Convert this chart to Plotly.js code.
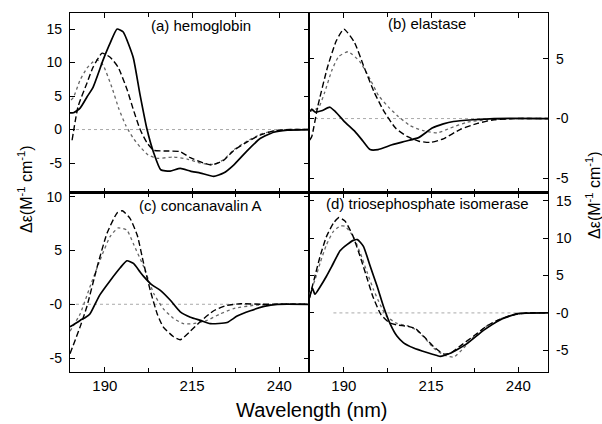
<!DOCTYPE html>
<html>
<head>
<meta charset="utf-8">
<script src="https://cdn.plot.ly/plotly-3.0.1.min.js"></script>
<style>html,body{margin:0;padding:0;background:#fff;}#chart{width:602px;height:424px;}</style>
</head>
<body>
<div id="chart"></div>
<script>
// ---- Data (wavelength nm, delta epsilon) ----
const panelLabels = ['(a) hemoglobin', '(b) elastase', '(c) concanavalin A', '(d) triosephosphate isomerase'];
const xTickVals = [190, 215, 240];

// (a) hemoglobin
const aSolidX = [180, 181, 182.9, 184.9, 186.6, 189.5, 191.5, 193.5, 195.2, 198.1, 200, 202, 204, 206, 208.7, 211.6, 214.5, 217.4, 221.2, 224, 226.9, 230.9, 234.6, 238.4, 242.3, 248.5];
const aSolidY = [2.5, 2.5, 3.2, 4.9, 6.3, 10.4, 12.9, 15.0, 14.6, 10.8, 5.4, 0.2, -3.5, -6.0, -6.2, -5.8, -6.2, -6.5, -7.0, -6.5, -5.3, -3.1, -1.3, -0.4, -0.1, 0];
const aDashX = [180.6, 182.3, 184.9, 186.6, 189.2, 191.5, 193.8, 196.4, 198.2, 200.1, 202.1, 204, 207.9, 211.6, 214.5, 218.3, 220.5, 224, 227, 230.9, 234.6, 238.5, 243, 248.5];
const aDashY = [-1.6, 3.4, 7.0, 9.3, 11.4, 10.8, 9.3, 5.9, 2.9, 0, -2, -3.1, -3.2, -3.3, -4.2, -5.0, -5.3, -4.6, -3.1, -1.8, -0.8, -0.2, 0, 0];
const aDotX = [180.3, 181, 182.9, 184.9, 186.6, 187.8, 189.5, 192, 194, 196, 198, 200.1, 202.4, 205, 209.7, 213.6, 217.4, 221.2, 224, 227, 230.9, 234.6, 238.5, 243, 248.5];
const aDotY = [4.4, 4.8, 7.4, 9.2, 10.1, 10.4, 9.6, 6.3, 3.1, 0.6, -1.2, -2.6, -3.8, -4.3, -4.1, -4.4, -5.0, -5.2, -4.5, -3.0, -1.7, -0.7, -0.2, 0, 0];

// (b) elastase
const bSolidX = [180.3, 180.8, 181.7, 183.6, 186, 187.5, 190.3, 193.2, 195.5, 197.5, 199.8, 203.8, 207.6, 211.4, 215.3, 218.5, 221.4, 227, 233, 248.5];
const bSolidY = [0.6, 0.8, 0.55, 0.65, 0.95, 0.6, -0.3, -1.1, -1.9, -2.6, -2.6, -2.2, -1.9, -1.6, -0.8, -0.45, -0.25, -0.1, 0, 0];
const bDashX = [180.2, 180.8, 182.5, 185.3, 187.8, 190, 193, 195.8, 198.7, 201.5, 204.8, 208.1, 211.5, 214.8, 218.5, 223.4, 228.3, 233, 240, 248.5];
const bDashY = [-1.8, -1.5, 1.0, 4.3, 6.5, 7.5, 6.4, 4.3, 2.2, 0.6, -0.8, -1.5, -1.9, -2.0, -1.7, -0.9, -0.4, -0.1, 0, 0];
const bDotX = [180.2, 182.7, 184.5, 186.5, 188.5, 191.2, 194.5, 197.5, 200, 203, 205.5, 209, 212.5, 216.8, 220.5, 225.4, 231.1, 240, 248.5];
const bDotY = [0.6, 0.9, 2.2, 4.0, 5.2, 5.6, 4.8, 3.3, 1.9, 0.9, 0.2, -0.6, -1.0, -1.2, -0.8, -0.3, -0.1, 0, 0];

// (c) concanavalin A
const cSolidX = [180, 181, 182.9, 184.5, 185.7, 187, 188.6, 191.5, 194.4, 196.3, 198.2, 200.1, 201.1, 203.5, 205.9, 208.7, 211.6, 214.5, 217.4, 220.2, 225, 227.9, 231.7, 235.6, 239.4, 248.5];
const cSolidY = [-2.1, -1.9, -1.5, -1.2, -0.9, -0.1, 0.9, 2.2, 3.4, 4.05, 3.8, 3.0, 2.6, 1.8, 1.3, 0.4, -0.7, -1.2, -1.5, -1.8, -1.7, -1.1, -0.6, -0.2, 0, 0];
const cDashX = [180, 182.9, 184.8, 187.8, 190.6, 193.5, 195, 197.2, 199.3, 201.1, 203, 205, 206.7, 209.6, 211.6, 214.5, 217.4, 221.2, 225, 228.9, 235, 248.5];
const cDashY = [-4.6, -2.1, -0.25, 3.5, 6.6, 8.5, 8.7, 8.0, 6.4, 3.8, 1.3, -0.9, -2.1, -3.0, -3.3, -2.5, -1.6, -0.6, -0.1, 0.05, 0, 0];
const cDotX = [180, 182.9, 185.7, 188.6, 191.5, 193.8, 196.3, 198.2, 201.1, 204, 206.7, 209.6, 212.5, 215.4, 219.3, 223, 226.9, 232.7, 240, 248.5];
const cDotY = [-2.5, -0.9, 1.6, 4.1, 6.3, 7.1, 6.9, 5.6, 3.5, 1.0, -0.4, -1.3, -1.8, -1.8, -1.5, -0.9, -0.4, -0.1, 0, 0];

// (d) triosephosphate isomerase
const dSolidX = [180.1, 181, 181.7, 183.2, 185, 186.5, 188.9, 190.8, 192.7, 193.9, 195.6, 197.5, 199.5, 201.4, 203.3, 205.2, 207.1, 210, 213.8, 216.7, 217.6, 220.5, 225.3, 230.1, 234.9, 239.7, 248.5];
const dSolidY = [2.0, 3.3, 2.5, 3.5, 4.9, 6.2, 8.3, 9.1, 9.7, 9.8, 8.9, 6.3, 3.6, 0.8, -1.5, -3.1, -4.0, -4.7, -5.3, -5.7, -5.8, -5.4, -4.1, -2.3, -0.9, -0.1, 0];
const dDashX = [180.1, 181.7, 183.2, 185, 187, 188.6, 190.3, 192.5, 194.9, 196.8, 198.3, 200.6, 203, 205.2, 208.3, 210.5, 213, 215.7, 218.6, 220.5, 223.4, 227.2, 231.1, 234.9, 238.7, 242.6, 248.5];
const dDashY = [2.0, 4.9, 7.6, 10.2, 12.0, 12.75, 12.3, 10.4, 7.2, 4.4, 2.2, -0.2, -1.3, -1.6, -1.8, -2.1, -3.2, -4.5, -5.5, -5.4, -4.4, -3.1, -1.7, -0.8, -0.25, 0, 0];
const dDotX = [180.1, 181.7, 183.2, 185, 187, 188.9, 190.3, 192.7, 194.7, 196.6, 198.5, 200.4, 202.3, 205.2, 208.1, 210.5, 212.9, 215.7, 218.6, 221.5, 224.3, 227.2, 231.1, 234.9, 238.7, 242.6, 248.5];
const dDotY = [2.4, 4.4, 6.7, 9.1, 10.9, 11.6, 11.6, 10.2, 8.0, 5.5, 3.1, 1.1, -0.5, -1.4, -1.7, -2.2, -3.2, -4.7, -5.6, -5.9, -4.7, -3.2, -1.7, -0.8, -0.25, 0, 0];

// y tick labels per panel
const aTickVals = [-5, 0, 5, 10, 15];  const aTickText = ['-5', '0', '5', '10', '15'];
const bTickVals = [-5, 0, 5];          const bTickText = ['-5', '-0', '5'];
const cTickVals = [-5, 0, 5, 10];      const cTickText = ['-5', '-0', '5', '10'];
const dTickVals = [-5, 0, 5, 10, 15];  const dTickText = ['-5', '-0', '5', '10', '15'];
const zeroStart = [180, 180, 180, 187];

// ---- Styles ----
const solidStyle = {color: '#000', width: 1.7, shape: 'spline', smoothing: 0.5};
const dashStyle = {color: '#000', width: 1.4, dash: '6px,3px', shape: 'spline', smoothing: 0.5};
const dotStyle = {color: '#666', width: 1.3, dash: 'dot', shape: 'spline', smoothing: 0.5};

const panels = [
  {sx: aSolidX, sy: aSolidY, dx: aDashX, dy: aDashY, ox: aDotX, oy: aDotY, ax: 'x', ay: 'y'},
  {sx: bSolidX, sy: bSolidY, dx: bDashX, dy: bDashY, ox: bDotX, oy: bDotY, ax: 'x2', ay: 'y2'},
  {sx: cSolidX, sy: cSolidY, dx: cDashX, dy: cDashY, ox: cDotX, oy: cDotY, ax: 'x3', ay: 'y3'},
  {sx: dSolidX, sy: dSolidY, dx: dDashX, dy: dDashY, ox: dDotX, oy: dDotY, ax: 'x4', ay: 'y4'}
];

const traces = [];
panels.forEach(p => {
  traces.push({x: p.ox, y: p.oy, xaxis: p.ax, yaxis: p.ay, mode: 'lines', line: dotStyle, hoverinfo: 'skip'});
  traces.push({x: p.dx, y: p.dy, xaxis: p.ax, yaxis: p.ay, mode: 'lines', line: dashStyle, hoverinfo: 'skip'});
  traces.push({x: p.sx, y: p.sy, xaxis: p.ax, yaxis: p.ay, mode: 'lines', line: solidStyle, hoverinfo: 'skip'});
});

const fontFam = 'Liberation Sans, Arial, sans-serif';
const xRange = [180, 248.5];

function xAxis(domain, anchor, showLabels) {
  return {
    domain: domain, anchor: anchor, range: xRange,
    tickmode: 'array', tickvals: xTickVals, ticktext: xTickVals.map(String),
    showticklabels: showLabels, ticks: 'inside', ticklen: 5, tickwidth: 1, tickcolor: '#000',
    minor: {tickmode: 'array', tickvals: [202.5, 227.5], ticks: 'inside', ticklen: 4, tickcolor: '#000'},
    showline: true, linecolor: '#000', linewidth: 1.2, mirror: 'ticks',
    showgrid: false, zeroline: false,
    tickfont: {family: fontFam, size: 15, color: '#000'}
  };
}
function yAxis(domain, anchor, range, vals, text, side) {
  return {
    domain: domain, anchor: anchor, range: range, side: side,
    tickmode: 'array', tickvals: vals, ticktext: text,
    ticks: 'inside', ticklen: 5, tickwidth: 1, tickcolor: '#000',
    showline: true, linecolor: '#000', linewidth: 1.2, mirror: 'ticks',
    showgrid: false, zeroline: false, ticklabelstandoff: 4,
    tickfont: {family: fontFam, size: 14, color: '#000'}
  };
}

const yRanges = [[-9.4, 17.4], [-6.2, 8.85], [-6.3, 10.4], [-7.9, 16.1]];
const axAnchors = [['x', 'y'], ['x2', 'y2'], ['x3', 'y3'], ['x4', 'y4']];

const shapes = axAnchors.map((a, i) => ({
  type: 'line', xref: a[0], yref: a[1], x0: zeroStart[i], x1: xRange[1], y0: 0, y1: 0,
  line: {color: '#aaa', width: 1, dash: 'dot'}, layer: 'below'
}));

const labelPos = [[0.548, 0.933], [0.494, 0.944], [0.544, 0.928], [0.494, 0.94]];
const annotations = panelLabels.map((t, i) => ({
  text: t, xref: axAnchors[i][0] + ' domain', yref: axAnchors[i][1] + ' domain',
  x: labelPos[i][0], y: labelPos[i][1], xanchor: 'center', yanchor: 'middle',
  showarrow: false, font: {family: fontFam, size: 15, color: '#000'}
}));
const yTitle = 'Δε(M<sup>-1</sup> cm<sup>-1</sup>)';
annotations.push({text: yTitle, xref: 'paper', yref: 'paper', x: -0.094, y: 0.51, textangle: -90,
  xanchor: 'center', yanchor: 'middle', showarrow: false, font: {family: fontFam, size: 16, color: '#000'}});
annotations.push({text: yTitle, xref: 'paper', yref: 'paper', x: 1.094, y: 0.493, textangle: -90,
  xanchor: 'center', yanchor: 'middle', showarrow: false, font: {family: fontFam, size: 16, color: '#000'}});
annotations.push({text: 'Wavelength (nm)', xref: 'paper', yref: 'paper', x: 0.506, y: -0.106,
  xanchor: 'center', yanchor: 'middle', showarrow: false, font: {family: fontFam, size: 20, color: '#000'}});

const layout = {
  width: 602, height: 424,
  margin: {l: 70, r: 54, t: 13, b: 52},
  paper_bgcolor: '#fff', plot_bgcolor: '#fff',
  showlegend: false,
  xaxis: xAxis([0, 0.5], 'y', false),
  xaxis2: xAxis([0.5, 1], 'y2', false),
  xaxis3: xAxis([0, 0.5], 'y3', true),
  xaxis4: xAxis([0.5, 1], 'y4', true),
  yaxis: yAxis([0.5, 1], 'x', yRanges[0], aTickVals, aTickText, 'left'),
  yaxis2: yAxis([0.5, 1], 'x2', yRanges[1], bTickVals, bTickText, 'right'),
  yaxis3: yAxis([0, 0.5], 'x3', yRanges[2], cTickVals, cTickText, 'left'),
  yaxis4: yAxis([0, 0.5], 'x4', yRanges[3], dTickVals, dTickText, 'right'),
  shapes: shapes,
  annotations: annotations
};

Plotly.newPlot('chart', traces, layout, {displayModeBar: false, staticPlot: true});
</script>
</body>
</html>
